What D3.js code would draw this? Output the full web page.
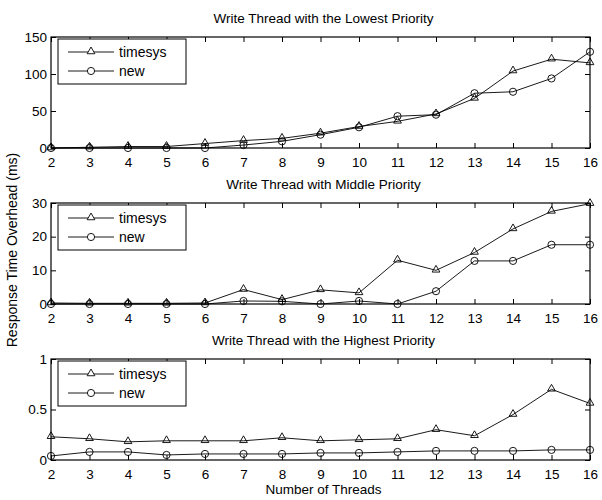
<!DOCTYPE html>
<html>
<head>
<meta charset="utf-8">
<script src="https://cdn.jsdelivr.net/npm/d3@7"></script>
<style>
  body { margin: 0; background: #fff; }
  text { font-family: "Liberation Sans", Arial, sans-serif; fill: #000; }
</style>
</head>
<body>
<div id="chart"></div>
<script>
var threads = [2, 3, 4, 5, 6, 7, 8, 9, 10, 11, 12, 13, 14, 15, 16];

var lowTimesys = [0, 1, 2, 2, 6, 10, 13, 20, 29, 36, 46, 67, 104, 120, 115];
var lowNew     = [0, 0, 0, 0, 0, 4, 9, 18, 28, 43, 45, 74, 76, 94, 130];

var midTimesys = [0.3, 0.2, 0.2, 0.2, 0.3, 4.3, 1.3, 4.2, 3.3, 13, 10, 15.3, 22.3, 27.5, 29.8];
var midNew     = [0, 0, 0, 0, 0, 0.9, 0.8, 0, 0.9, 0, 3.8, 12.8, 12.8, 17.6, 17.6];

var highTimesys = [0.23, 0.21, 0.18, 0.19, 0.19, 0.19, 0.22, 0.19, 0.2, 0.21, 0.3, 0.24, 0.45, 0.7, 0.56];
var highNew     = [0.04, 0.08, 0.08, 0.05, 0.06, 0.06, 0.06, 0.07, 0.07, 0.08, 0.09, 0.09, 0.09, 0.1, 0.1];

var titles = ['Write Thread with the Lowest Priority',
              'Write Thread with Middle Priority',
              'Write Thread with the Highest Priority'];
var yMax = [150, 30, 1];
var yTicks = [[0, 50, 100, 150], [0, 10, 20, 30], [0, 0.5, 1]];
var seriesNames = ['timesys', 'new'];

var panels = [
  { timesys: lowTimesys, fresh: lowNew, top: 37, bottom: 148 },
  { timesys: midTimesys, fresh: midNew, top: 203, bottom: 304 },
  { timesys: highTimesys, fresh: highNew, top: 359, bottom: 460 }
];

var width = 602, height = 500;
var left = 51, right = 590;

var svg = d3.select('#chart').append('svg')
  .attr('width', width)
  .attr('height', height);

var x = d3.scaleLinear().domain([2, 16]).range([left, right]);

var tri = d3.symbol().type(d3.symbolTriangle).size(26);

panels.forEach(function(p, i) {
  var y = d3.scaleLinear().domain([0, yMax[i]]).range([p.bottom, p.top]);
  var g = svg.append('g');

  // inward ticks on all four sides
  g.append('g').attr('transform', 'translate(0,' + p.bottom + ')')
    .call(d3.axisBottom(x).tickValues(threads).tickSizeInner(-5).tickSizeOuter(0).tickPadding(9).tickFormat(d3.format('d')));
  g.append('g').attr('transform', 'translate(0,' + p.top + ')')
    .call(d3.axisTop(x).tickValues(threads).tickSizeInner(-5).tickSizeOuter(0).tickFormat(''));
  g.append('g').attr('transform', 'translate(' + left + ',0)')
    .call(d3.axisLeft(y).tickValues(yTicks[i]).tickSizeInner(-5).tickSizeOuter(0).tickPadding(4).tickFormat(d3.format('')));
  g.append('g').attr('transform', 'translate(' + right + ',0)')
    .call(d3.axisRight(y).tickValues(yTicks[i]).tickSizeInner(-5).tickSizeOuter(0).tickFormat(''));

  g.selectAll('.domain').remove();
  g.selectAll('.tick line').attr('stroke', '#000').attr('stroke-width', 1);
  g.selectAll('.tick text').style('font-size', '13.5px').style('font-family', '"Liberation Sans", Arial, sans-serif');

  g.append('rect')
    .attr('x', left).attr('y', p.top)
    .attr('width', right - left).attr('height', p.bottom - p.top)
    .attr('fill', 'none').attr('stroke', '#000').attr('stroke-width', 1.2);

  g.append('text')
    .attr('x', (left + right) / 2 + 3).attr('y', p.top - 14)
    .attr('text-anchor', 'middle').style('font-size', '13.5px')
    .text(titles[i]);

  var line = d3.line()
    .x(function(d, k) { return x(threads[k]); })
    .y(function(d) { return y(d); });

  [p.timesys, p.fresh].forEach(function(vals, s) {
    g.append('path').datum(vals)
      .attr('d', line)
      .attr('fill', 'none').attr('stroke', '#000').attr('stroke-width', 0.9);

    var marks = g.selectAll(null).data(vals).enter();
    if (s === 0) {
      marks.append('path')
        .attr('d', tri)
        .attr('transform', function(d, k) { return 'translate(' + x(threads[k]) + ',' + (y(d) - 0.5) + ')'; })
        .attr('fill', 'none').attr('stroke', '#000').attr('stroke-width', 0.9);
    } else {
      marks.append('circle')
        .attr('cx', function(d, k) { return x(threads[k]); })
        .attr('cy', function(d) { return y(d); })
        .attr('r', 3.6)
        .attr('fill', 'none').attr('stroke', '#000').attr('stroke-width', 0.9);
    }
  });

  // legend
  var lx = left + 7, ly = p.top + 2;
  var leg = g.append('g');
  leg.append('rect')
    .attr('x', lx).attr('y', ly).attr('width', 128).attr('height', 45)
    .attr('fill', '#fff').attr('stroke', '#000').attr('stroke-width', 1);
  seriesNames.forEach(function(name, s) {
    var yy = ly + 13 + s * 19;
    leg.append('line')
      .attr('x1', lx + 10).attr('x2', lx + 56).attr('y1', yy).attr('y2', yy)
      .attr('stroke', '#000').attr('stroke-width', 0.9);
    if (s === 0) {
      leg.append('path').attr('d', tri)
        .attr('transform', 'translate(' + (lx + 33) + ',' + (yy - 0.5) + ')')
        .attr('fill', '#fff').attr('stroke', '#000').attr('stroke-width', 0.9);
    } else {
      leg.append('circle').attr('cx', lx + 33).attr('cy', yy).attr('r', 3.6)
        .attr('fill', '#fff').attr('stroke', '#000').attr('stroke-width', 0.9);
    }
    leg.append('text')
      .attr('x', lx + 61).attr('y', yy + 5)
      .style('font-size', '14px')
      .text(name);
  });
});

svg.append('text')
  .attr('x', (left + right) / 2 + 3).attr('y', 494)
  .attr('text-anchor', 'middle').style('font-size', '13.5px')
  .text('Number of Threads');

svg.append('text')
  .attr('transform', 'translate(17,' + 250 + ') rotate(-90)')
  .attr('text-anchor', 'middle').style('font-size', '14px')
  .text('Response Time Overhead (ms)');
</script>
</body>
</html>
